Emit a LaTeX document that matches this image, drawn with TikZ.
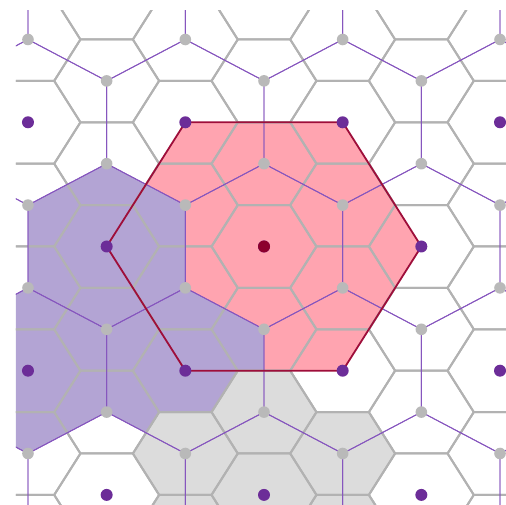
\documentclass[tikz,border=0pt]{standalone}
\definecolor{pinkfill}{RGB}{255,164,176}
\definecolor{purpfill}{RGB}{179,164,212}
\definecolor{grayfill}{RGB}{220,220,220}
\definecolor{gridcol}{RGB}{178,178,178}
\definecolor{purpline}{RGB}{134,86,190}
\definecolor{purpdot}{RGB}{108,45,152}
\definecolor{redline}{RGB}{158,14,58}
\definecolor{reddot}{RGB}{140,0,45}
\definecolor{graydot}{RGB}{185,185,185}
% small flat-top hexagon around a lattice point
\newcommand\myShex[1]{#1 +(-0.6667,0) -- +(-0.3333,-1) -- +(0.3333,-1) -- +(0.6667,0) -- +(0.3333,1) -- +(-0.3333,1) -- cycle}
% parent pointy-top hexagon around a lattice point
\newcommand\myPhex[1]{#1 +(0,-2) -- +(1,-1) -- +(1,1) -- +(0,2) -- +(-1,1) -- +(-1,-1) -- cycle}
\begin{document}
\begin{tikzpicture}[x=78.67pt,y=-41.4pt,
  gridline/.style={draw=gridcol,line width=2pt,line join=round},
  purpedge/.style={draw=purpline,line width=0.9pt,line join=round},
  rededge/.style={draw=redline,line width=1.8pt,line join=round},
  pdot/.style={fill=purpdot},
  gdot/.style={fill=graydot}]
\useasboundingbox (-264pt,246.5pt) rectangle (242pt,-258.5pt);
\begin{scope}
\clip (-248pt,235.5pt) rectangle (242pt,-258.5pt);
% grand-parent hexagon fill
\fill[pinkfill] (-2,0) -- (-1,-3) -- (1,-3) -- (2,0) -- (1,3) -- (-1,3) -- cycle;
% purple parent cells
\fill[purpfill] \myPhex{(-2,0)};
\fill[purpfill] \myPhex{(-3,3)};
\fill[purpfill] \myPhex{(-1,3)};
% gray cluster of seven small cells
\foreach \p in {(0,6),(0,4),(0,8),(-1,5),(-1,7),(1,5),(1,7)}{
  \fill[grayfill] \myShex{\p};
}
% small hexagon grid
\foreach \i in {-4,...,4}{
  \foreach \k in {-5,...,5}{
    \pgfmathtruncatemacro\mm{2*\k+mod(abs(\i),2)}
    \draw[gridline] \myShex{(\i,\mm)};
  }
}
% parent hexagon network
\foreach \i in {-5,...,5}{
  \foreach \k in {-3,...,3}{
    \pgfmathtruncatemacro\q{mod(abs(\i+\k),2)}
    \pgfmathtruncatemacro\mm{3*\k}
    \ifnum\q=0
      \draw[purpedge] \myPhex{(\i,\mm)};
    \fi
  }
}
% grand-parent outline
\draw[rededge] (-2,0) -- (-1,-3) -- (1,-3) -- (2,0) -- (1,3) -- (-1,3) -- cycle;
% gray dots (small cell centres that are parent vertices)
\foreach \i in {-4,...,4}{
  \foreach \k in {-5,...,5}{
    \pgfmathtruncatemacro\mm{2*\k+mod(abs(\i),2)}
    \pgfmathtruncatemacro\r{mod(abs(\mm),3)}
    \ifnum\r=0
      \pgfmathtruncatemacro\kk{\mm/3}
      \pgfmathtruncatemacro\q{mod(abs(\i+\kk),2)}
      \ifnum\q=1
        \fill[gdot] (\i,\mm) circle[radius=5.8pt];
      \fi
    \else
      \fill[gdot] (\i,\mm) circle[radius=5.8pt];
    \fi
  }
}
% purple dots (parent centres)
\foreach \i in {-5,...,5}{
  \foreach \k in {-3,...,3}{
    \pgfmathtruncatemacro\q{mod(abs(\i+\k),2)}
    \pgfmathtruncatemacro\mm{3*\k}
    \ifnum\q=0
      \fill[pdot] (\i,\mm) circle[radius=6pt];
    \fi
  }
}
% centre of grand-parent
\fill[reddot] (0,0) circle[radius=6pt];
\end{scope}
\end{tikzpicture}
\end{document}
